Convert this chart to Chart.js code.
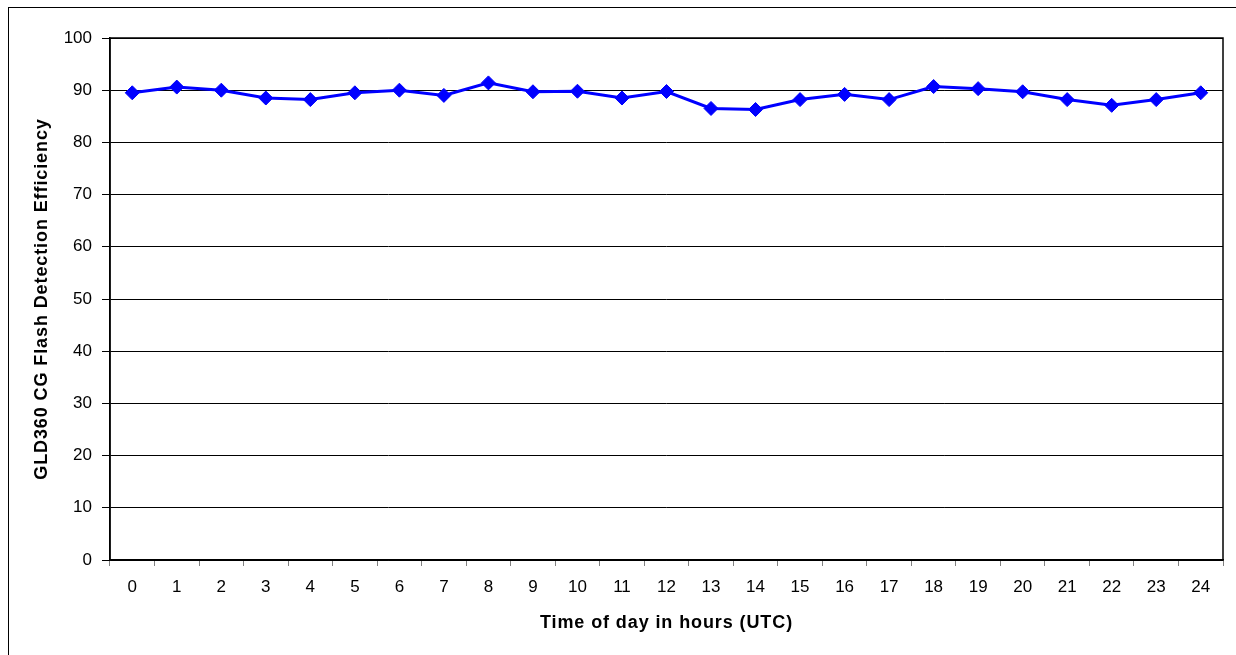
<!DOCTYPE html>
<html>
<head>
<meta charset="utf-8">
<script src="https://cdn.jsdelivr.net/npm/chart.js@4"></script>
<style>
  html, body { margin: 0; padding: 0; background: #fff; }
  canvas { display: block; }
</style>
</head>
<body>
<canvas id="c" width="1236" height="655"></canvas>
<script>
const hours = ['0','1','2','3','4','5','6','7','8','9','10','11','12','13','14','15','16','17','18','19','20','21','22','23','24'];
const efficiency = [89.5, 90.6, 90.0, 88.5, 88.2, 89.5, 90.0, 89.0, 91.4, 89.7, 89.8, 88.5, 89.75, 86.5, 86.3, 88.2, 89.2, 88.2, 90.7, 90.3, 89.7, 88.2, 87.1, 88.2, 89.5];
const yTitle = 'GLD360 CG Flash Detection Efficiency';
const xTitle = 'Time of day in hours (UTC)';

const FONT = "'Liberation Sans', Arial, sans-serif";

const framePlugin = {
  id: 'frame',
  beforeDraw(chart) {
    const ctx = chart.ctx;
    ctx.save();
    ctx.fillStyle = '#fff';
    ctx.fillRect(0, 0, chart.width, chart.height);
    ctx.strokeStyle = '#000';
    ctx.lineWidth = 1;
    ctx.strokeRect(8.5, 7.5, 1400, 800);
    ctx.restore();
  },
  beforeDatasetsDraw(chart) {
    const a = chart.chartArea;
    const ctx = chart.ctx;
    ctx.save();
    ctx.strokeStyle = '#000';
    ctx.lineWidth = 1.5;
    ctx.strokeRect(a.left, a.top, a.right - a.left, a.bottom - a.top);
    ctx.restore();
  },
  afterDraw(chart) {
    const a = chart.chartArea;
    const ctx = chart.ctx;
    ctx.save();
    ctx.fillStyle = '#000';
    ctx.font = "bold 18px " + FONT;
    ctx.letterSpacing = '0.9px';
    ctx.textAlign = 'center';
    ctx.textBaseline = 'middle';
    ctx.fillText(xTitle, (a.left + a.right) / 2, 623);
    ctx.translate(42, (a.top + a.bottom) / 2);
    ctx.rotate(-Math.PI / 2);
    ctx.fillText(yTitle, 0, 0);
    ctx.restore();
  }
};

new Chart(document.getElementById('c'), {
  type: 'line',
  data: {
    labels: hours,
    datasets: [{
      data: efficiency,
      borderColor: '#0000FF',
      backgroundColor: '#0000FF',
      borderWidth: 3,
      pointStyle: 'rectRot',
      pointRadius: 7,
      pointBorderWidth: 1,
      pointBackgroundColor: '#0000FF',
      pointBorderColor: '#0000FF',
      tension: 0,
      fill: false
    }]
  },
  options: {
    responsive: false,
    animation: false,
    devicePixelRatio: 1,
    layout: { padding: { left: 0, top: 38, right: 13, bottom: 0 } },
    plugins: { legend: { display: false }, tooltip: { enabled: false } },
    scales: {
      x: {
        type: 'category',
        offset: true,
        grid: { offset: true, drawOnChartArea: false, drawTicks: true, tickLength: 6, color: '#808080' },
        border: { display: true, color: '#000', width: 1.5 },
        ticks: { color: '#000', font: { family: FONT, size: 17 }, padding: 11, maxRotation: 0, autoSkip: false },
        title: { display: false },
        afterFit(s) { s.height = 95; }
      },
      y: {
        min: 0, max: 100,
        ticks: { stepSize: 10, color: '#000', font: { family: FONT, size: 17 }, padding: 10 },
        grid: { color: '#000', lineWidth: 1, tickLength: 8, tickColor: '#000' },
        border: { display: true, color: '#000', width: 1.5 },
        title: { display: false },
        afterFit(s) { s.width = 110; }
      }
    }
  },
  plugins: [framePlugin]
});
</script>
</body>
</html>
